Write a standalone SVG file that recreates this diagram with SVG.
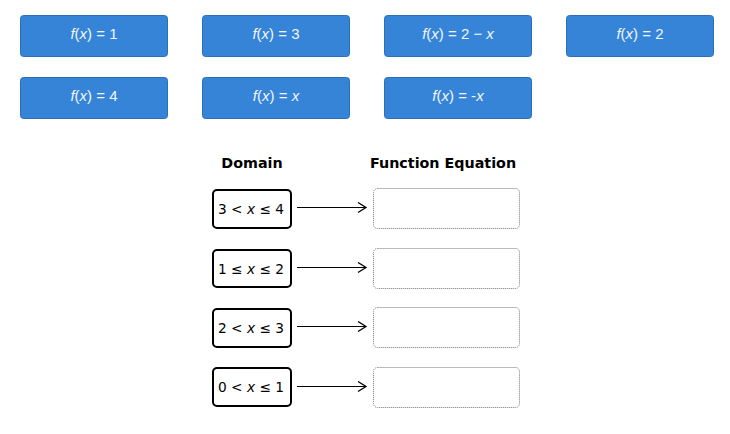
<svg xmlns="http://www.w3.org/2000/svg" width="730" height="434" viewBox="0 0 730 434">
<style>
.tile{fill:#3584d8;stroke:#2a6fb8;stroke-width:1}
.tt{font-family:"Liberation Sans",Arial,sans-serif;font-size:15px;fill:#f2f6fb;text-anchor:middle}
.dom{fill:#fff;stroke:#000;stroke-width:2}
.dt{font-family:"DejaVu Sans",sans-serif;font-size:13.7px;fill:#000;text-anchor:middle}
.hd{font-family:"DejaVu Sans",sans-serif;font-size:14.3px;font-weight:bold;fill:#000;text-anchor:middle}
.drop{fill:#fff;stroke:#777;stroke-width:1;stroke-dasharray:1 1}
.conn{stroke:#000;stroke-width:1;fill:none}
</style>
<defs>
<marker id="ah" markerWidth="12" markerHeight="12" refX="10" refY="6" orient="auto" markerUnits="userSpaceOnUse">
<path d="M2,1 L10,6 L2,11" fill="none" stroke="#000" stroke-width="1.3"/>
</marker>
</defs>
<rect width="730" height="434" fill="#fff"/>
<g id="tile1"><rect class="tile" x="20.5" y="15.5" width="147" height="41" rx="3"/><text class="tt" x="94" y="38.5"><tspan font-style="italic">f</tspan>(<tspan font-style="italic">x</tspan>) = 1</text></g>
<g id="tile2"><rect class="tile" x="202.5" y="15.5" width="147" height="41" rx="3"/><text class="tt" x="276" y="38.5"><tspan font-style="italic">f</tspan>(<tspan font-style="italic">x</tspan>) = 3</text></g>
<g id="tile3"><rect class="tile" x="384.5" y="15.5" width="147" height="41" rx="3"/><text class="tt" x="458" y="38.5"><tspan font-style="italic">f</tspan>(<tspan font-style="italic">x</tspan>) = 2 − <tspan font-style="italic">x</tspan></text></g>
<g id="tile4"><rect class="tile" x="566.5" y="15.5" width="147" height="41" rx="3"/><text class="tt" x="640" y="38.5"><tspan font-style="italic">f</tspan>(<tspan font-style="italic">x</tspan>) = 2</text></g>
<g id="tile5"><rect class="tile" x="20.5" y="77.5" width="147" height="41" rx="3"/><text class="tt" x="94" y="100.5"><tspan font-style="italic">f</tspan>(<tspan font-style="italic">x</tspan>) = 4</text></g>
<g id="tile6"><rect class="tile" x="202.5" y="77.5" width="147" height="41" rx="3"/><text class="tt" x="276" y="100.5"><tspan font-style="italic">f</tspan>(<tspan font-style="italic">x</tspan>) = <tspan font-style="italic">x</tspan></text></g>
<g id="tile7"><rect class="tile" x="384.5" y="77.5" width="147" height="41" rx="3"/><text class="tt" x="458" y="100.5"><tspan font-style="italic">f</tspan>(<tspan font-style="italic">x</tspan>) = -<tspan font-style="italic">x</tspan></text></g>
<g id="headings"><text class="hd" x="252" y="168">Domain</text><text class="hd" x="443" y="168">Function Equation</text></g>
<g id="d1"><rect class="dom" x="213" y="190" width="78" height="38" rx="4"/><text class="dt" x="251" y="214">3 &lt; <tspan font-style="italic">x</tspan> ≤ 4</text></g>
<g id="d2"><rect class="dom" x="213" y="250" width="78" height="37" rx="4"/><text class="dt" x="251" y="273.5">1 ≤ <tspan font-style="italic">x</tspan> ≤ 2</text></g>
<g id="d3"><rect class="dom" x="213" y="309" width="78" height="38" rx="4"/><text class="dt" x="251" y="333">2 &lt; <tspan font-style="italic">x</tspan> ≤ 3</text></g>
<g id="d4"><rect class="dom" x="213" y="368" width="78" height="38" rx="4"/><text class="dt" x="251" y="392">0 &lt; <tspan font-style="italic">x</tspan> ≤ 1</text></g>
<g id="e1"><rect class="drop" x="373.5" y="188.5" width="146" height="40" rx="4"/></g>
<g id="e2"><rect class="drop" x="373.5" y="248.5" width="146" height="40" rx="4"/></g>
<g id="e3"><rect class="drop" x="373.5" y="307.5" width="146" height="40" rx="4"/></g>
<g id="e4"><rect class="drop" x="373.5" y="367.5" width="146" height="40" rx="4"/></g>
<g id="connectors">
<line class="conn" x1="297" y1="207.5" x2="366" y2="207.5" marker-end="url(#ah)"/>
<line class="conn" x1="297" y1="267.5" x2="366" y2="267.5" marker-end="url(#ah)"/>
<line class="conn" x1="297" y1="326.5" x2="366" y2="326.5" marker-end="url(#ah)"/>
<line class="conn" x1="297" y1="386.5" x2="366" y2="386.5" marker-end="url(#ah)"/>
</g>
</svg>
